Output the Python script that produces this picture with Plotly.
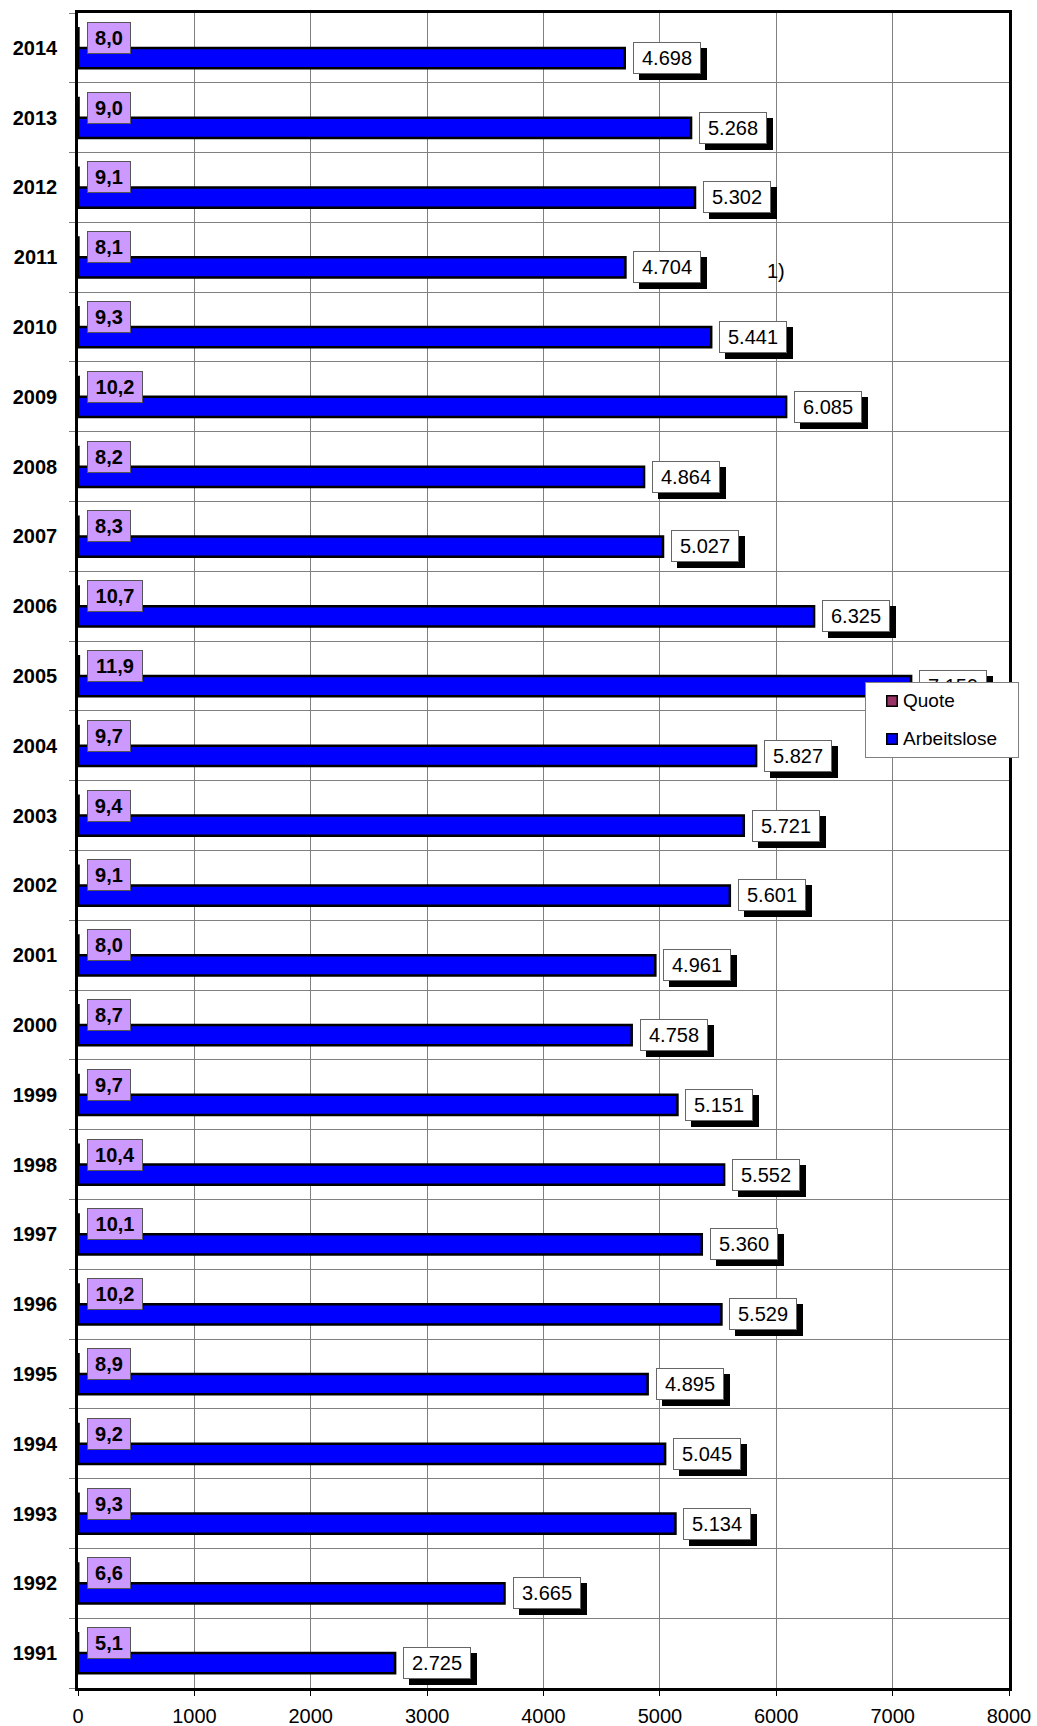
import plotly.graph_objects as go

years = ["1991", "1992", "1993", "1994", "1995", "1996", "1997", "1998", "1999", "2000",
         "2001", "2002", "2003", "2004", "2005", "2006", "2007", "2008", "2009", "2010",
         "2011", "2012", "2013", "2014"]
arbeitslose = [2725, 3665, 5134, 5045, 4895, 5529, 5360, 5552, 5151, 4758,
               4961, 5601, 5721, 5827, 7159, 6325, 5027, 4864, 6085, 5441,
               4704, 5302, 5268, 4698]
quote = [5.1, 6.6, 9.3, 9.2, 8.9, 10.2, 10.1, 10.4, 9.7, 8.7,
         8.0, 9.1, 9.4, 9.7, 11.9, 10.7, 8.3, 8.2, 10.2, 9.3,
         8.1, 9.1, 9.0, 8.0]
x_ticks = [0, 1000, 2000, 3000, 4000, 5000, 6000, 7000, 8000]
footnote = {"year": "2011", "x": 5995, "text": "1)"}
series_names = ["Quote", "Arbeitslose"]
series_colors = ["#993366", "#0000FF"]

FONT = "Arial, Liberation Sans, sans-serif"


def de_thousands(v):
    return f"{v:,}".replace(",", ".")


def de_decimal(v):
    return f"{v:.1f}".replace(".", ",")


fig = go.Figure()
fig.add_trace(go.Bar(
    name=series_names[1], y=years, x=arbeitslose, orientation="h",
    width=0.29, offset=-0.29,
    marker=dict(color=series_colors[1], line=dict(color="black", width=2.5)),
    hoverinfo="skip",
))
fig.add_trace(go.Bar(
    name=series_names[0], y=years, x=quote, orientation="h",
    width=0.29, offset=0.0,
    marker=dict(color=series_colors[0], line=dict(color="black", width=1.5)),
    hoverinfo="skip",
))

ann = []
for i, (y, v) in enumerate(zip(years, arbeitslose)):
    txt = de_thousands(v)
    # shadow
    ann.append(dict(x=v, y=i, xref="x", yref="y", text=txt, showarrow=False,
                    xanchor="left", yanchor="middle", xshift=14, yshift=-16,
                    width=62, height=26, borderpad=2, borderwidth=1,
                    bgcolor="black", bordercolor="black",
                    font=dict(family=FONT, size=20, color="black")))
    ann.append(dict(x=v, y=i, xref="x", yref="y", text=txt, showarrow=False,
                    xanchor="left", yanchor="middle", xshift=8, yshift=-10,
                    width=62, height=26, borderpad=2, borderwidth=1,
                    bgcolor="white", bordercolor="#666666",
                    font=dict(family=FONT, size=20, color="black")))
for i, (y, q) in enumerate(zip(years, quote)):
    txt = de_decimal(q)
    w = 38 if len(txt) == 3 else 50
    ann.append(dict(x=0, y=i, xref="x", yref="y", text=f"<b>{txt}</b>", showarrow=False,
                    xanchor="left", yanchor="middle", xshift=9, yshift=10,
                    width=w, height=26, borderpad=2, borderwidth=1,
                    bgcolor="#CC99FF", bordercolor="#555555",
                    font=dict(family=FONT, size=20, color="black")))
ann.append(dict(x=footnote["x"], y=years.index(footnote["year"]), xref="x", yref="y",
                text=footnote["text"], showarrow=False, xanchor="center",
                yanchor="middle", yshift=-14,
                font=dict(family=FONT, size=20, color="black")))

# legend drawn above the data labels (as in the reference)
LX, LY = 0.8453, 0.6006
ann.append(dict(x=LX, y=LY, xref="paper", yref="paper", text=" ", showarrow=False,
                xanchor="left", yanchor="top", width=152, height=74,
                borderpad=0, borderwidth=1, bordercolor="#808080", bgcolor="white"))
for k, (name, col) in enumerate(zip(series_names, series_colors)):
    dy = 19 + 38 * k
    ann.append(dict(x=LX, y=LY, xref="paper", yref="paper", text=" ", showarrow=False,
                    xanchor="center", yanchor="middle", xshift=27.5, yshift=-dy,
                    width=9, height=9, borderpad=0, borderwidth=1.5,
                    bordercolor="black", bgcolor=col, font=dict(size=6)))
    ann.append(dict(x=LX, y=LY, xref="paper", yref="paper", text=name, showarrow=False,
                    xanchor="left", yanchor="middle", xshift=36, yshift=-dy,
                    font=dict(family=FONT, size=19, color="black")))

fig.update_layout(
    width=1037, height=1726,
    margin=dict(l=78, r=28, t=13, b=38, autoexpand=False),
    paper_bgcolor="white", plot_bgcolor="white",
    barmode="overlay",
    font=dict(family=FONT, size=20, color="black"),
    annotations=ann,
    showlegend=False,
)
fig.update_xaxes(
    range=[0, 8000], tickvals=x_ticks, ticktext=[str(t) for t in x_ticks],
    showgrid=True, gridcolor="#808080", gridwidth=1, automargin=False,
    zeroline=False, showline=True, linecolor="black", linewidth=2.5, mirror=True,
    ticks="outside", ticklen=5, tickcolor="black", ticklabelstandoff=3,
    tickfont=dict(family=FONT, size=20, color="black"),
)
fig.update_yaxes(
    type="category", categoryorder="array", categoryarray=years,
    range=[-0.5, len(years) - 0.5], automargin=False,
    tickson="boundaries", showgrid=True, gridcolor="#808080", gridwidth=1,
    showline=True, linecolor="black", linewidth=2.5, mirror=True,
    ticks="outside", ticklen=6, tickcolor="#808080",
    ticklabelstandoff=14,
    tickfont=dict(family=FONT, size=20, color="black", weight="bold"),
)

fig.write_html(
    "out.html",
    config={"displayModeBar": False},
    post_script="document.body.style.margin='0';document.body.style.overflow='hidden';",
)
